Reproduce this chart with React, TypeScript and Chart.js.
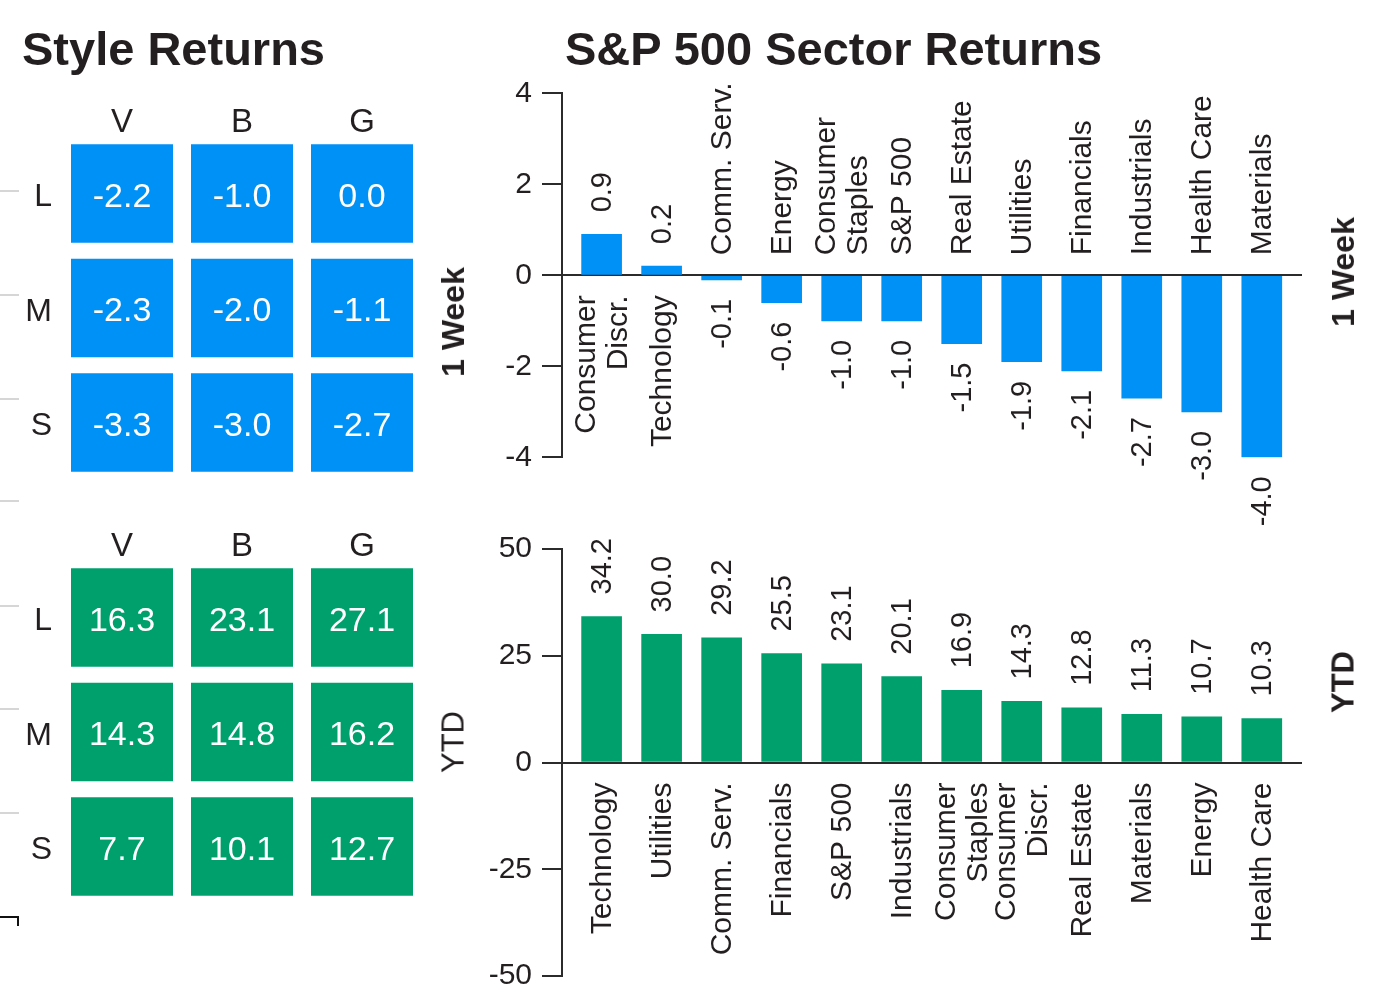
import React, { useEffect, useRef } from 'react';
import { Chart, registerables } from 'chart.js';
Chart.register(...registerables);

const W = 1382;
const H = 995;
const CH = 1100; // canvas height (extends below the clipped page so edge labels never squeeze the plot)
const FONT = "'Liberation Sans', Arial, sans-serif";
const INK = '#231f20';
const AXIS = '#2b2b2b';
const BLUE = '#0091f7';
const GREEN = '#00a06d';

// ---- Style Returns (heatmaps) ----
const styleCols = ['V', 'B', 'G'];
const styleRows = ['L', 'M', 'S'];
const styleWeek = [
  [-2.2, -1.0, 0.0],
  [-2.3, -2.0, -1.1],
  [-3.3, -3.0, -2.7],
];
const styleYtd = [
  [16.3, 23.1, 27.1],
  [14.3, 14.8, 16.2],
  [7.7, 10.1, 12.7],
];

// ---- S&P 500 Sector Returns ----
const weekSectors = ['Consumer\nDiscr.', 'Technology', 'Comm. Serv.', 'Energy', 'Consumer\nStaples', 'S&P 500', 'Real Estate', 'Utilities', 'Financials', 'Industrials', 'Health Care', 'Materials'];
const weekValues = [0.9, 0.2, -0.1, -0.6, -1.0, -1.0, -1.5, -1.9, -2.1, -2.7, -3.0, -4.0];
const ytdSectors = ['Technology', 'Utilities', 'Comm. Serv.', 'Financials', 'S&P 500', 'Industrials', 'Consumer\nStaples', 'Consumer\nDiscr.', 'Real Estate', 'Materials', 'Energy', 'Health Care'];
const ytdValues = [34.2, 30.0, 29.2, 25.5, 23.1, 20.1, 16.9, 14.3, 12.8, 11.3, 10.7, 10.3];
const weekTicks = [-4, -2, 0, 2, 4];
const ytdTicks = [-50, -25, 0, 25, 50];

// decorative left-edge ticks (layout only)
const decoTickYs = [191, 295, 399, 501, 606, 709, 813];

const cellLabelPlugin = {
  id: 'cellLabels',
  afterDatasetsDraw(chart: any) {
    const ctx = chart.ctx;
    ctx.save();
    ctx.fillStyle = '#ffffff';
    ctx.font = `34px ${FONT}`;
    ctx.textAlign = 'center';
    ctx.textBaseline = 'middle';
    chart.data.datasets.forEach((ds: any, di: number) => {
      const meta = chart.getDatasetMeta(di);
      meta.data.forEach((el: any, i: number) => {
        const v = ds.cellValues[i];
        ctx.fillText(v.toFixed(1), el.x, (el.y + el.base) / 2 + 4);
      });
    });
    ctx.restore();
  },
};

function heatConfig(values: number[][], color: string, areaTop: number): any {
  const half = 0.43;
  const areaH = 343.5;
  return {
    type: 'bar',
    data: {
      labels: styleCols,
      datasets: styleRows.map((r, ri) => ({
        label: r,
        data: styleCols.map(() => [ri - half, ri + half]),
        cellValues: values[ri],
        backgroundColor: color,
        grouped: false,
        categoryPercentage: 0.85,
        barPercentage: 1,
        borderWidth: 0,
        borderSkipped: false,
      })),
    },
    options: {
      responsive: false,
      animation: false,
      layout: { padding: { left: 0, right: W - 422, top: areaTop - 40, bottom: CH - (areaTop + areaH) } },
      plugins: { legend: { display: false }, tooltip: { enabled: false } },
      scales: {
        x: {
          position: 'top',
          offset: true,
          grid: { display: false, drawTicks: false },
          border: { display: false },
          ticks: { font: { family: FONT, size: 33, lineHeight: 1 }, color: INK, padding: -3 },
          afterFit: (s: any) => { s.height = 40; },
        },
        y: {
          type: 'linear',
          reverse: true,
          min: -0.5,
          max: 2.5,
          grid: { display: false, drawTicks: false },
          border: { display: false },
          afterBuildTicks: (s: any) => { s.ticks = styleRows.map((_, i) => ({ value: i })); },
          ticks: {
            font: { family: FONT, size: 32, lineHeight: 1 },
            color: INK,
            padding: 10,
            labelOffset: 4,
            callback: (v: any) => styleRows[v] ?? '',
          },
          afterFit: (s: any) => { s.width = 62; },
        },
      },
    },
    plugins: [cellLabelPlugin],
  };
}

function drawRot(ctx: any, lines: string[], cx: number, y: number, align: string) {
  ctx.save();
  ctx.translate(cx, y);
  ctx.rotate(-Math.PI / 2);
  ctx.textAlign = align;
  const lh = 32;
  lines.forEach((ln, k) => {
    ctx.fillText(ln, 0, (k - (lines.length - 1) / 2) * lh + 1);
  });
  ctx.restore();
}

function barLabelPlugin(names: string[], values: number[]) {
  return {
    id: 'barLabels',
    afterDatasetsDraw(chart: any) {
      const { ctx } = chart;
      const x = chart.scales.x;
      const y = chart.scales.y;
      const zero = y.getPixelForValue(0);
      ctx.save();
      ctx.fillStyle = INK;
      ctx.textBaseline = 'middle';
      names.forEach((name, i) => {
        const v = values[i];
        const cx = x.getPixelForValue(i);
        const end = y.getPixelForValue(v);
        ctx.font = `30px ${FONT}`;
        drawRot(ctx, name.split('\n'), cx, v >= 0 ? zero + 20 : zero - 20, v >= 0 ? 'right' : 'left');
        ctx.font = `29px ${FONT}`;
        drawRot(ctx, [v.toFixed(1)], cx, v >= 0 ? end - 22 : end + 19, v >= 0 ? 'left' : 'right');
      });
      ctx.restore();
    },
  };
}

function barConfig(names: string[], values: number[], color: string, ticks: number[], top: number, bottom: number): any {
  return {
    type: 'bar',
    data: {
      datasets: [
        {
          data: values.map((v, i) => ({ x: i, y: v })),
          backgroundColor: color,
          barThickness: 40,
          borderWidth: 0,
        },
      ],
    },
    options: {
      responsive: false,
      animation: false,
      layout: { padding: { left: 0, right: W - 1302, top, bottom: CH - bottom } },
      plugins: { legend: { display: false }, tooltip: { enabled: false } },
      scales: {
        x: { type: 'linear', display: false, offset: false, min: -0.66, max: 11.67, grid: { offset: false } },
        y: {
          min: ticks[0],
          max: ticks[ticks.length - 1],
          afterBuildTicks: (s: any) => { s.ticks = ticks.map((v) => ({ value: v })); },
          ticks: { font: { family: FONT, size: 30, lineHeight: 1 }, color: INK, padding: 10 },
          grid: {
            color: (c: any) => (c.tick && c.tick.value === 0 ? AXIS : 'rgba(0,0,0,0)'),
            lineWidth: 2,
            tickColor: AXIS,
            tickLength: 20,
            drawTicks: true,
          },
          border: { display: true, color: AXIS, width: 2 },
          afterFit: (s: any) => { s.width = 562; },
        },
      },
    },
    plugins: [barLabelPlugin(names, values)],
  };
}

const canvasStyle: React.CSSProperties = { position: 'absolute', left: 0, top: 0, width: W, height: CH };

function SideLabel({ text, x, y, bold, size }: { text: string; x: number; y: number; bold: boolean; size: number }) {
  return (
    <div
      style={{
        position: 'absolute',
        left: x,
        top: y,
        transform: 'translate(-50%, -50%) rotate(-90deg)',
        fontSize: size,
        fontWeight: bold ? 700 : 400,
        lineHeight: 1,
        whiteSpace: 'nowrap',
      }}
    >
      {text}
    </div>
  );
}

export default function App() {
  const r1 = useRef<HTMLCanvasElement>(null);
  const r2 = useRef<HTMLCanvasElement>(null);
  const r3 = useRef<HTMLCanvasElement>(null);
  const r4 = useRef<HTMLCanvasElement>(null);

  useEffect(() => {
    const charts = [
      new Chart(r1.current as any, heatConfig(styleWeek, BLUE, 136.25)),
      new Chart(r2.current as any, heatConfig(styleYtd, GREEN, 560.25)),
      new Chart(r3.current as any, barConfig(weekSectors, weekValues, BLUE, weekTicks, 93.3, 457.3)),
      new Chart(r4.current as any, barConfig(ytdSectors, ytdValues, GREEN, ytdTicks, 549, 976)),
    ];
    return () => charts.forEach((c) => c.destroy());
  }, []);

  return (
    <div
      style={{
        position: 'absolute',
        left: 0,
        top: 0,
        width: W,
        height: H,
        background: '#ffffff',
        overflow: 'hidden',
        fontFamily: FONT,
        color: INK,
      }}
    >
      <canvas ref={r1} width={W} height={CH} style={canvasStyle} />
      <canvas ref={r2} width={W} height={CH} style={canvasStyle} />
      <canvas ref={r3} width={W} height={CH} style={canvasStyle} />
      <canvas ref={r4} width={W} height={CH} style={canvasStyle} />

      <div style={{ position: 'absolute', left: 22, top: 25, fontSize: 47, fontWeight: 700, lineHeight: 1, whiteSpace: 'nowrap' }}>
        Style Returns
      </div>
      <div style={{ position: 'absolute', left: 833.5, top: 25, transform: 'translateX(-50%)', fontSize: 47, fontWeight: 700, lineHeight: 1, whiteSpace: 'nowrap' }}>
        S&amp;P 500 Sector Returns
      </div>

      <SideLabel text="1 Week" x={453} y={322} bold size={32} />
      <SideLabel text="YTD" x={453} y={742} bold={false} size={31} />
      <SideLabel text="1 Week" x={1343} y={272} bold size={32} />
      <SideLabel text="YTD" x={1343} y={682} bold size={31} />

      {decoTickYs.map((y) => (
        <div key={y} style={{ position: 'absolute', left: 0, top: y - 1, width: 19, height: 2, background: '#d6d6d6' }} />
      ))}
      <div style={{ position: 'absolute', left: 0, top: 916, width: 19, height: 2, background: '#111' }} />
      <div style={{ position: 'absolute', left: 17, top: 916, width: 2, height: 10, background: '#111' }} />
    </div>
  );
}
